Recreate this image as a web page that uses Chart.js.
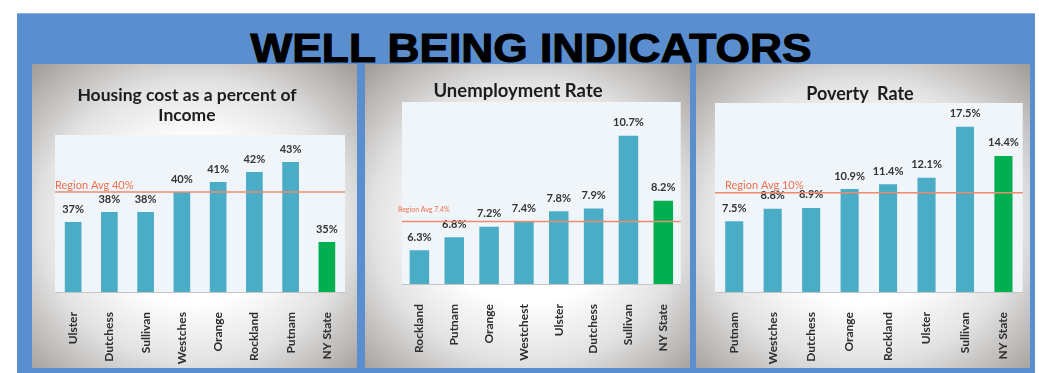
<!DOCTYPE html>
<html>
<head>
<meta charset="utf-8">
<script src="https://cdn.jsdelivr.net/npm/chart.js@4.4.1/dist/chart.umd.min.js"></script>
<style>
  html, body { margin: 0; padding: 0; background: #ffffff; }
  body { width: 1039px; height: 373px; position: relative; overflow: hidden; font-family: Lato, "Open Sans", sans-serif; }
  .board { position: absolute; left: 17px; top: 13px; width: 1018px; height: 360px; background: #5b8ecf; border-top: 1px solid #86aee0; }
  .big-title { position: absolute; left: 0; top: 28px; width: 1062px; text-align: center; font: bold 41px "Liberation Sans", Arial, sans-serif; line-height: 41px; color: #000; -webkit-text-stroke: 1.1px #000; transform: scaleX(1.08); }
  .panel { position: absolute; top: 64px; height: 304px;
    background: radial-gradient(ellipse 72% 70% at 50% 52%, #ffffff 38%, #e2e2e2 66%, #a39e9a 100%); }
  .panel canvas { position: absolute; left: 0; top: 0; }
  .ptitle { position: absolute; width: 300px; text-align: center; font-weight: bold; color: #1c1c1c; line-height: 20px; }
</style>
</head>
<body>
<div class="board"></div>
<div class="big-title">WELL BEING INDICATORS</div>

<div class="panel" id="p1" style="left:32px;width:325px;">
  <canvas id="housingChart" width="325" height="304"></canvas>
  <div class="ptitle" style="left:5px;top:21px;font-size:17.5px;">Housing cost as a percent of<br>Income</div>
</div>
<div class="panel" id="p2" style="left:365px;width:325px;">
  <canvas id="unemploymentChart" width="325" height="304"></canvas>
  <div class="ptitle" style="left:3px;top:16px;font-size:18.5px;">Unemployment Rate</div>
</div>
<div class="panel" id="p3" style="left:696px;width:334px;">
  <canvas id="povertyChart" width="334" height="304"></canvas>
  <div class="ptitle" style="left:14px;top:19px;font-size:18px;">Poverty&nbsp; Rate</div>
</div>

<script>
// housing cost
const housingLabels = ['Ulster', 'Dutchess', 'Sullivan', 'Westches', 'Orange', 'Rockland', 'Putnam', 'NY State'];
const housingValues = [37, 38, 38, 40, 41, 42, 43, 35];
const housingAvg = 40;

// unemployment
const unemploymentLabels = ['Rockland', 'Putnam', 'Orange', 'Westchest', 'Ulster', 'Dutchess', 'Sullivan', 'NY State'];
const unemploymentValues = [6.3, 6.8, 7.2, 7.4, 7.8, 7.9, 10.7, 8.2];
const unemploymentAvg = 7.4;

// poverty
const povertyLabels = ['Putnam', 'Westches', 'Dutchess', 'Orange', 'Rockland', 'Ulster', 'Sullivan', 'NY State'];
const povertyValues = [7.5, 8.8, 8.9, 10.9, 11.4, 12.1, 17.5, 14.4];
const povertyAvg = 10.5;

const teal = '#4bacc6';
const green = '#00b050';

const barColors = (labels) => labels.map(l => l === 'NY State' ? green : teal);

const plotBg = {
  id: 'plotBg',
  beforeDraw(chart) {
    const a = chart.chartArea;
    const ctx = chart.ctx;
    ctx.save();
    ctx.fillStyle = '#f0f5f9';
    ctx.fillRect(a.left, a.top, a.right - a.left, a.bottom - a.top);
    ctx.restore();
  }
};

const valueLabels = {
  id: 'valueLabels',
  afterDatasetsDraw(chart, args, opts) {
    const ctx = chart.ctx;
    const meta = chart.getDatasetMeta(0);
    const data = chart.data.datasets[0].data;
    ctx.save();
    ctx.font = 'bold 11px Lato, sans-serif';
    ctx.fillStyle = '#333333';
    ctx.textAlign = 'center';
    ctx.textBaseline = 'middle';
    meta.data.forEach((bar, i) => {
      ctx.fillText(opts.fmt(data[i]), bar.x, bar.y - 13);
    });
    ctx.restore();
  }
};

const avgLine = {
  id: 'avgLine',
  afterDatasetsDraw(chart, args, opts) {
    const ctx = chart.ctx;
    const a = chart.chartArea;
    const y = chart.scales.y.getPixelForValue(opts.value);
    ctx.save();
    ctx.strokeStyle = '#f08a6c';
    ctx.lineWidth = 1.5;
    ctx.beginPath();
    ctx.moveTo(a.left, y);
    ctx.lineTo(a.right, y);
    ctx.stroke();
    ctx.font = opts.font;
    ctx.fillStyle = '#f0704e';
    ctx.textAlign = 'left';
    ctx.textBaseline = 'middle';
    ctx.fillText(opts.text, a.left + opts.dx, y - opts.dy);
    ctx.restore();
  }
};

const createChart = (id, labels, values, cfg) => {
  const ctx = document.getElementById(id).getContext('2d');
  return new Chart(ctx, {
    type: 'bar',
    data: {
      labels: labels,
      datasets: [{
        data: values,
        backgroundColor: barColors(labels),
        borderWidth: 0,
        barPercentage: cfg.barPct,
        categoryPercentage: 1
      }]
    },
    options: {
      responsive: false,
      animation: false,
      devicePixelRatio: 1,
      layout: { padding: { left: cfg.left, right: cfg.right, top: cfg.top, bottom: 0 } },
      plugins: {
        legend: { display: false },
        tooltip: { enabled: false },
        valueLabels: { fmt: cfg.fmt },
        avgLine: cfg.avg
      },
      scales: {
        x: {
          grid: { display: false },
          border: { color: '#c4c4c4' },
          ticks: {
            minRotation: 90, maxRotation: 90, autoSkip: false, padding: 12,
            color: '#2e2e2e', font: { family: 'Lato', weight: 'bold', size: 12 }
          },
          afterFit: (scale) => { scale.height = cfg.bottom; }
        },
        y: { display: false, min: cfg.min, max: cfg.max }
      }
    },
    plugins: [plotBg, valueLabels, avgLine]
  });
};

createChart('housingChart', housingLabels, housingValues, {
  left: 23, right: 12, top: 71, bottom: 76, min: 30, max: 45.7, barPct: 0.46,
  fmt: v => v + '%',
  avg: { value: housingAvg, text: 'Region Avg 40%', font: '11px Lato, sans-serif', dx: 0, dy: 7 }
});

createChart('unemploymentChart', unemploymentLabels, unemploymentValues, {
  left: 37, right: 5, top: 38, bottom: 84, min: 5, max: 12, barPct: 0.56,
  fmt: v => v.toFixed(1) + '%',
  avg: { value: unemploymentAvg, text: 'Region Avg 7.4%', font: '7px Lato, sans-serif', dx: -4, dy: 12 }
});

createChart('povertyChart', povertyLabels, povertyValues, {
  left: 19, right: 2, top: 39, bottom: 76, min: 0, max: 20, barPct: 0.47,
  fmt: v => v.toFixed(1) + '%',
  avg: { value: povertyAvg, text: 'Region Avg 10%', font: '11px Lato, sans-serif', dx: 10, dy: 7 }
});
</script>
</body>
</html>
